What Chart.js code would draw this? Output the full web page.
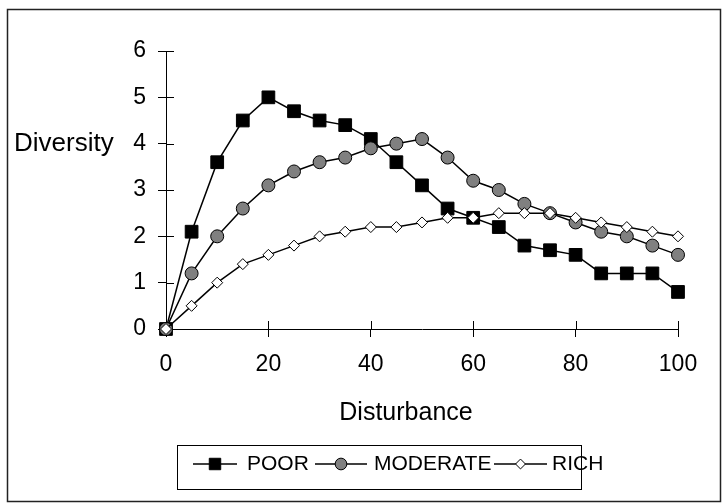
<!DOCTYPE html>
<html>
<head>
<meta charset="utf-8">
<script src="https://cdn.jsdelivr.net/npm/chart.js@4.4.0/dist/chart.umd.min.js"></script>
<style>
  body { margin: 0; background: #fff; }
  #wrap { width: 723px; height: 504px; position: relative; }
</style>
</head>
<body>
<div id="wrap"><canvas id="divChart"></canvas></div>
<script>
// disturbance level (x) and diversity for each community type
var disturbance = [0, 5, 10, 15, 20, 25, 30, 35, 40, 45, 50, 55, 60, 65, 70, 75, 80, 85, 90, 95, 100];
var poor     = [0, 2.1, 3.6, 4.5, 5.0, 4.7, 4.5, 4.4, 4.1, 3.6, 3.1, 2.6, 2.4, 2.2, 1.8, 1.7, 1.6, 1.2, 1.2, 1.2, 0.8];
var moderate = [0, 1.2, 2.0, 2.6, 3.1, 3.4, 3.6, 3.7, 3.9, 4.0, 4.1, 3.7, 3.2, 3.0, 2.7, 2.5, 2.3, 2.1, 2.0, 1.8, 1.6];
var rich     = [0, 0.5, 1.0, 1.4, 1.6, 1.8, 2.0, 2.1, 2.2, 2.2, 2.3, 2.4, 2.4, 2.5, 2.5, 2.5, 2.4, 2.3, 2.2, 2.1, 2.0];
var seriesNames = ['POOR', 'MODERATE', 'RICH'];
var xTicks = [0, 20, 40, 60, 80, 100];
var yTicks = [0, 1, 2, 3, 4, 5, 6];

var FONT = '"Liberation Sans", Arial, sans-serif';

function pts(vals) {
    return vals.map(function (v, i) { return { x: disturbance[i], y: v }; });
}

var styles = [
    { pointStyle: 'rect',    radius: 9,   fill: '#000000' },
    { pointStyle: 'circle',  radius: 6.5, fill: '#808080' },
    { pointStyle: 'rectRot', radius: 5.5, fill: '#ffffff' }
];

function ds(i, vals) {
    return {
        label: seriesNames[i],
        data: pts(vals),
        borderColor: '#000',
        borderWidth: 1.5,
        pointStyle: styles[i].pointStyle,
        pointRadius: styles[i].radius,
        pointBackgroundColor: styles[i].fill,
        pointBorderColor: '#000',
        pointBorderWidth: 1,
        clip: false,
        order: 3 - i
    };
}

// frame, inner tick stubs, y title, x title, legend box
var extras = {
    id: 'extras',
    beforeDatasetsDraw: function (chart) {
        var c = chart.ctx, xs = chart.scales.x, ys = chart.scales.y;
        c.save();
        c.strokeStyle = '#000';
        c.lineWidth = 1;
        c.beginPath();
        xTicks.forEach(function (t) {
            var px = Math.round(xs.getPixelForValue(t)) + 0.5;
            c.moveTo(px, ys.bottom);
            c.lineTo(px, ys.bottom - 8);
        });
        yTicks.forEach(function (t) {
            var py = Math.round(ys.getPixelForValue(t)) + 0.5;
            c.moveTo(xs.left, py);
            c.lineTo(xs.left + 8, py);
        });
        c.stroke();
        c.restore();
    },
    afterDraw: function (chart) {
        var c = chart.ctx, ys = chart.scales.y;
        c.save();
        // outer frame
        c.strokeStyle = '#222';
        c.lineWidth = 1.5;
        c.strokeRect(7.5, 9.5, 713, 492);

        c.fillStyle = '#000';
        c.font = '26px ' + FONT;
        c.textBaseline = 'middle';
        c.textAlign = 'left';
        c.fillText('Diversity', 14, ys.getPixelForValue(4));
        c.font = '25px ' + FONT;
        c.textAlign = 'center';
        c.textBaseline = 'alphabetic';
        c.fillText('Disturbance', 406, 420);

        // legend
        c.strokeStyle = '#000';
        c.lineWidth = 1;
        c.strokeRect(177.5, 445.5, 404, 44);
        var items = [
            { x0: 193, x1: 237, tx: 247 },
            { x0: 315, x1: 367, tx: 374 },
            { x0: 494, x1: 547, tx: 552 }
        ];
        var ly = 464;
        c.font = '21px ' + FONT;
        c.textAlign = 'left';
        c.textBaseline = 'middle';
        items.forEach(function (it, i) {
            c.strokeStyle = '#000';
            c.lineWidth = 1.5;
            c.beginPath();
            c.moveTo(it.x0, ly);
            c.lineTo(it.x1, ly);
            c.stroke();
            c.fillStyle = styles[i].fill;
            c.lineWidth = 1;
            Chart.helpers.drawPoint(c, {
                pointStyle: styles[i].pointStyle,
                radius: styles[i].radius * 0.9,
                borderWidth: 1,
                rotation: 0
            }, (it.x0 + it.x1) / 2, ly);
            c.fillStyle = '#000';
            c.fillText(seriesNames[i], it.tx, ly);
        });
        c.restore();
    }
};

var ctx = document.getElementById('divChart').getContext('2d');
var divChart = new Chart(ctx, {
    type: 'line',
    data: {
        datasets: [ds(0, poor), ds(1, moderate), ds(2, rich)]
    },
    options: {
        responsive: true,
        maintainAspectRatio: false,
        animation: false,
        devicePixelRatio: 1,
        layout: { padding: { left: 7, top: 51, right: 45, bottom: 95 } },
        plugins: {
            legend: { display: false },
            tooltip: { enabled: false }
        },
        scales: {
            x: {
                type: 'linear',
                min: 0,
                max: 100,
                afterFit: function (s) { s.height = 80; },
                afterBuildTicks: function (s) { s.ticks = xTicks.map(function (v) { return { value: v }; }); },
                grid: { drawOnChartArea: false, drawTicks: true, tickLength: 8, color: '#000' },
                border: { display: true, color: '#000', width: 1 },
                ticks: { color: '#000', padding: 14, maxRotation: 0, font: { family: FONT, size: 23 } }
            },
            y: {
                min: 0,
                max: 6,
                afterFit: function (s) { s.width = 159; },
                afterBuildTicks: function (s) { s.ticks = yTicks.map(function (v) { return { value: v }; }); },
                grid: { drawOnChartArea: false, drawTicks: true, tickLength: 8, color: '#000' },
                border: { display: true, color: '#000', width: 1 },
                ticks: { color: '#000', padding: 12, font: { family: FONT, size: 23 } }
            }
        }
    },
    plugins: [extras]
});
</script>
</body>
</html>
